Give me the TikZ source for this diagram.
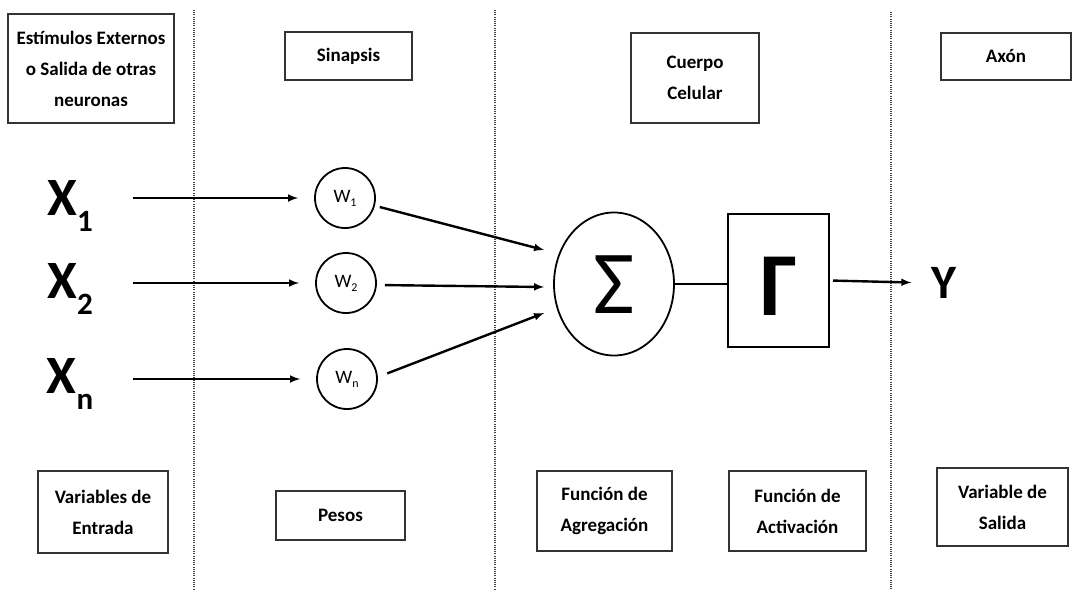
\documentclass[tikz,border=0pt]{standalone}
\usepackage{fontspec}
\setmainfont{Carlito}
\usepackage{tikz}
\usetikzlibrary{positioning,shapes,arrows}
\usepackage{xcolor}
\tikzstyle{caja}=[rectangle, draw=black!80, line width=1.8pt, fill=white,
text centered, align=center, inner sep=2pt, font=\bfseries\fontsize{19}{31}\selectfont]
\tikzstyle{peso}=[circle, draw=black, line width=1.8pt, minimum size=60pt, inner sep=0pt,
font=\fontsize{19}{19}\selectfont]
\tikzstyle{entrada}=[inner sep=0pt, font=\bfseries\fontsize{54}{54}\selectfont]
\tikzstyle{flecha}=[-latex, line width=2.4pt]
\tikzstyle{sep}=[black!75, line width=1.1pt, dash pattern=on 1pt off 1.2pt]
\newcommand{\indice}[1]{\raisebox{-0.28em}{\fontsize{31}{31}\selectfont #1}}
\newcommand{\indw}[1]{\raisebox{-0.2em}{\fontsize{12}{12}\selectfont #1}}

\begin{document}
\begin{tikzpicture}[x=1pt,y=-1pt]
            \useasboundingbox (0,0) rectangle (1077,590);
            % separadores
            \draw[sep] (194,10) -- (194,590);
            \draw[sep] (495,10) -- (495,590);
            \draw[sep] (891,12) -- (891,590);

            % cajas de arriba
            \node (est)[caja, minimum width=166pt, minimum height=109pt] at (91,68.5)
                {Estímulos Externos\\o Salida de otras\\neuronas};
            \node (sin)[caja, minimum width=127pt, minimum height=48pt] at (348.5,56) {Sinapsis};
            \node (cue)[caja, minimum width=128pt, minimum height=90pt] at (695,78) {Cuerpo\\Celular};
            \node (axo)[caja, minimum width=130pt, minimum height=47pt] at (1006,56.5) {Axón};

            % cajas de abajo
            \node (ven)[caja, minimum width=130pt, minimum height=82pt] at (103,512) {Variables de\\Entrada};
            \node (pes)[caja, minimum width=129pt, minimum height=49pt] at (340.5,515.5) {Pesos};
            \node (agr)[caja, minimum width=135pt, minimum height=80pt] at (604.5,511) {Función de\\Agregación};
            \node (act)[caja, minimum width=137pt, minimum height=80pt] at (797.5,511) {Función de\\Activación};
            \node (vsa)[caja, minimum width=131pt, minimum height=78pt] at (1002.5,507) {Variable de\\Salida};

            % entradas
            \node (x1)[entrada] at (70,206) {X\indice{1}};
            \node (x2)[entrada] at (70,289) {X\indice{2}};
            \node (xn)[entrada] at (70,384) {X\indice{n}};

            % pesos
            \node (w1)[peso] at (345,198) {W\indw{1}};
            \node (w2)[peso] at (346,283) {W\indw{2}};
            \node (wn)[peso] at (347,379) {W\indw{n}};

            % cuerpo
            \node (suma)[ellipse, draw=black, line width=1.8pt, minimum width=120pt,
                minimum height=143pt, text depth=0pt, font=\fontsize{90}{90}\selectfont] at (614,284) {\raisebox{-2pt}{Σ}};
            \node (gam)[rectangle, draw=black, line width=2pt, minimum width=101pt,
                minimum height=133pt, text depth=0pt, font=\bfseries\fontsize{90}{90}\selectfont] at (778.5,280.5) {\raisebox{-12pt}{Γ}};
            \node (y)[entrada, font=\bfseries\fontsize{48}{48}\selectfont] at (944,283) {Y};

            \draw[flecha, shorten <=40pt, shorten >=16pt] (x1.east |- w1) -- (w1);
            \draw[flecha, shorten <=40pt, shorten >=16pt] (x2.east |- w2) -- (w2);
            \draw[flecha, shorten <=40pt, shorten >=16pt] (xn.east |- wn) -- (wn);

            \draw[flecha, shorten <=4pt] ([yshift=-8pt]w1.east) -- ([shift={(-9,-34)}]suma.west);
            \draw[flecha, shorten <=8pt] ([yshift=-2pt]w2.east) -- ([shift={(-9,3)}]suma.west);
            \draw[flecha, shorten <=10pt] ([yshift=2pt]wn.east) -- ([shift={(-9,29)}]suma.west);

            \draw[line width=2.4pt] (suma.east) -- (suma.east -| gam.west);
            \draw[flecha, shorten <=3pt, shorten >=20pt] (gam.east) -- (y.west);
        \end{tikzpicture}
\end{document}
